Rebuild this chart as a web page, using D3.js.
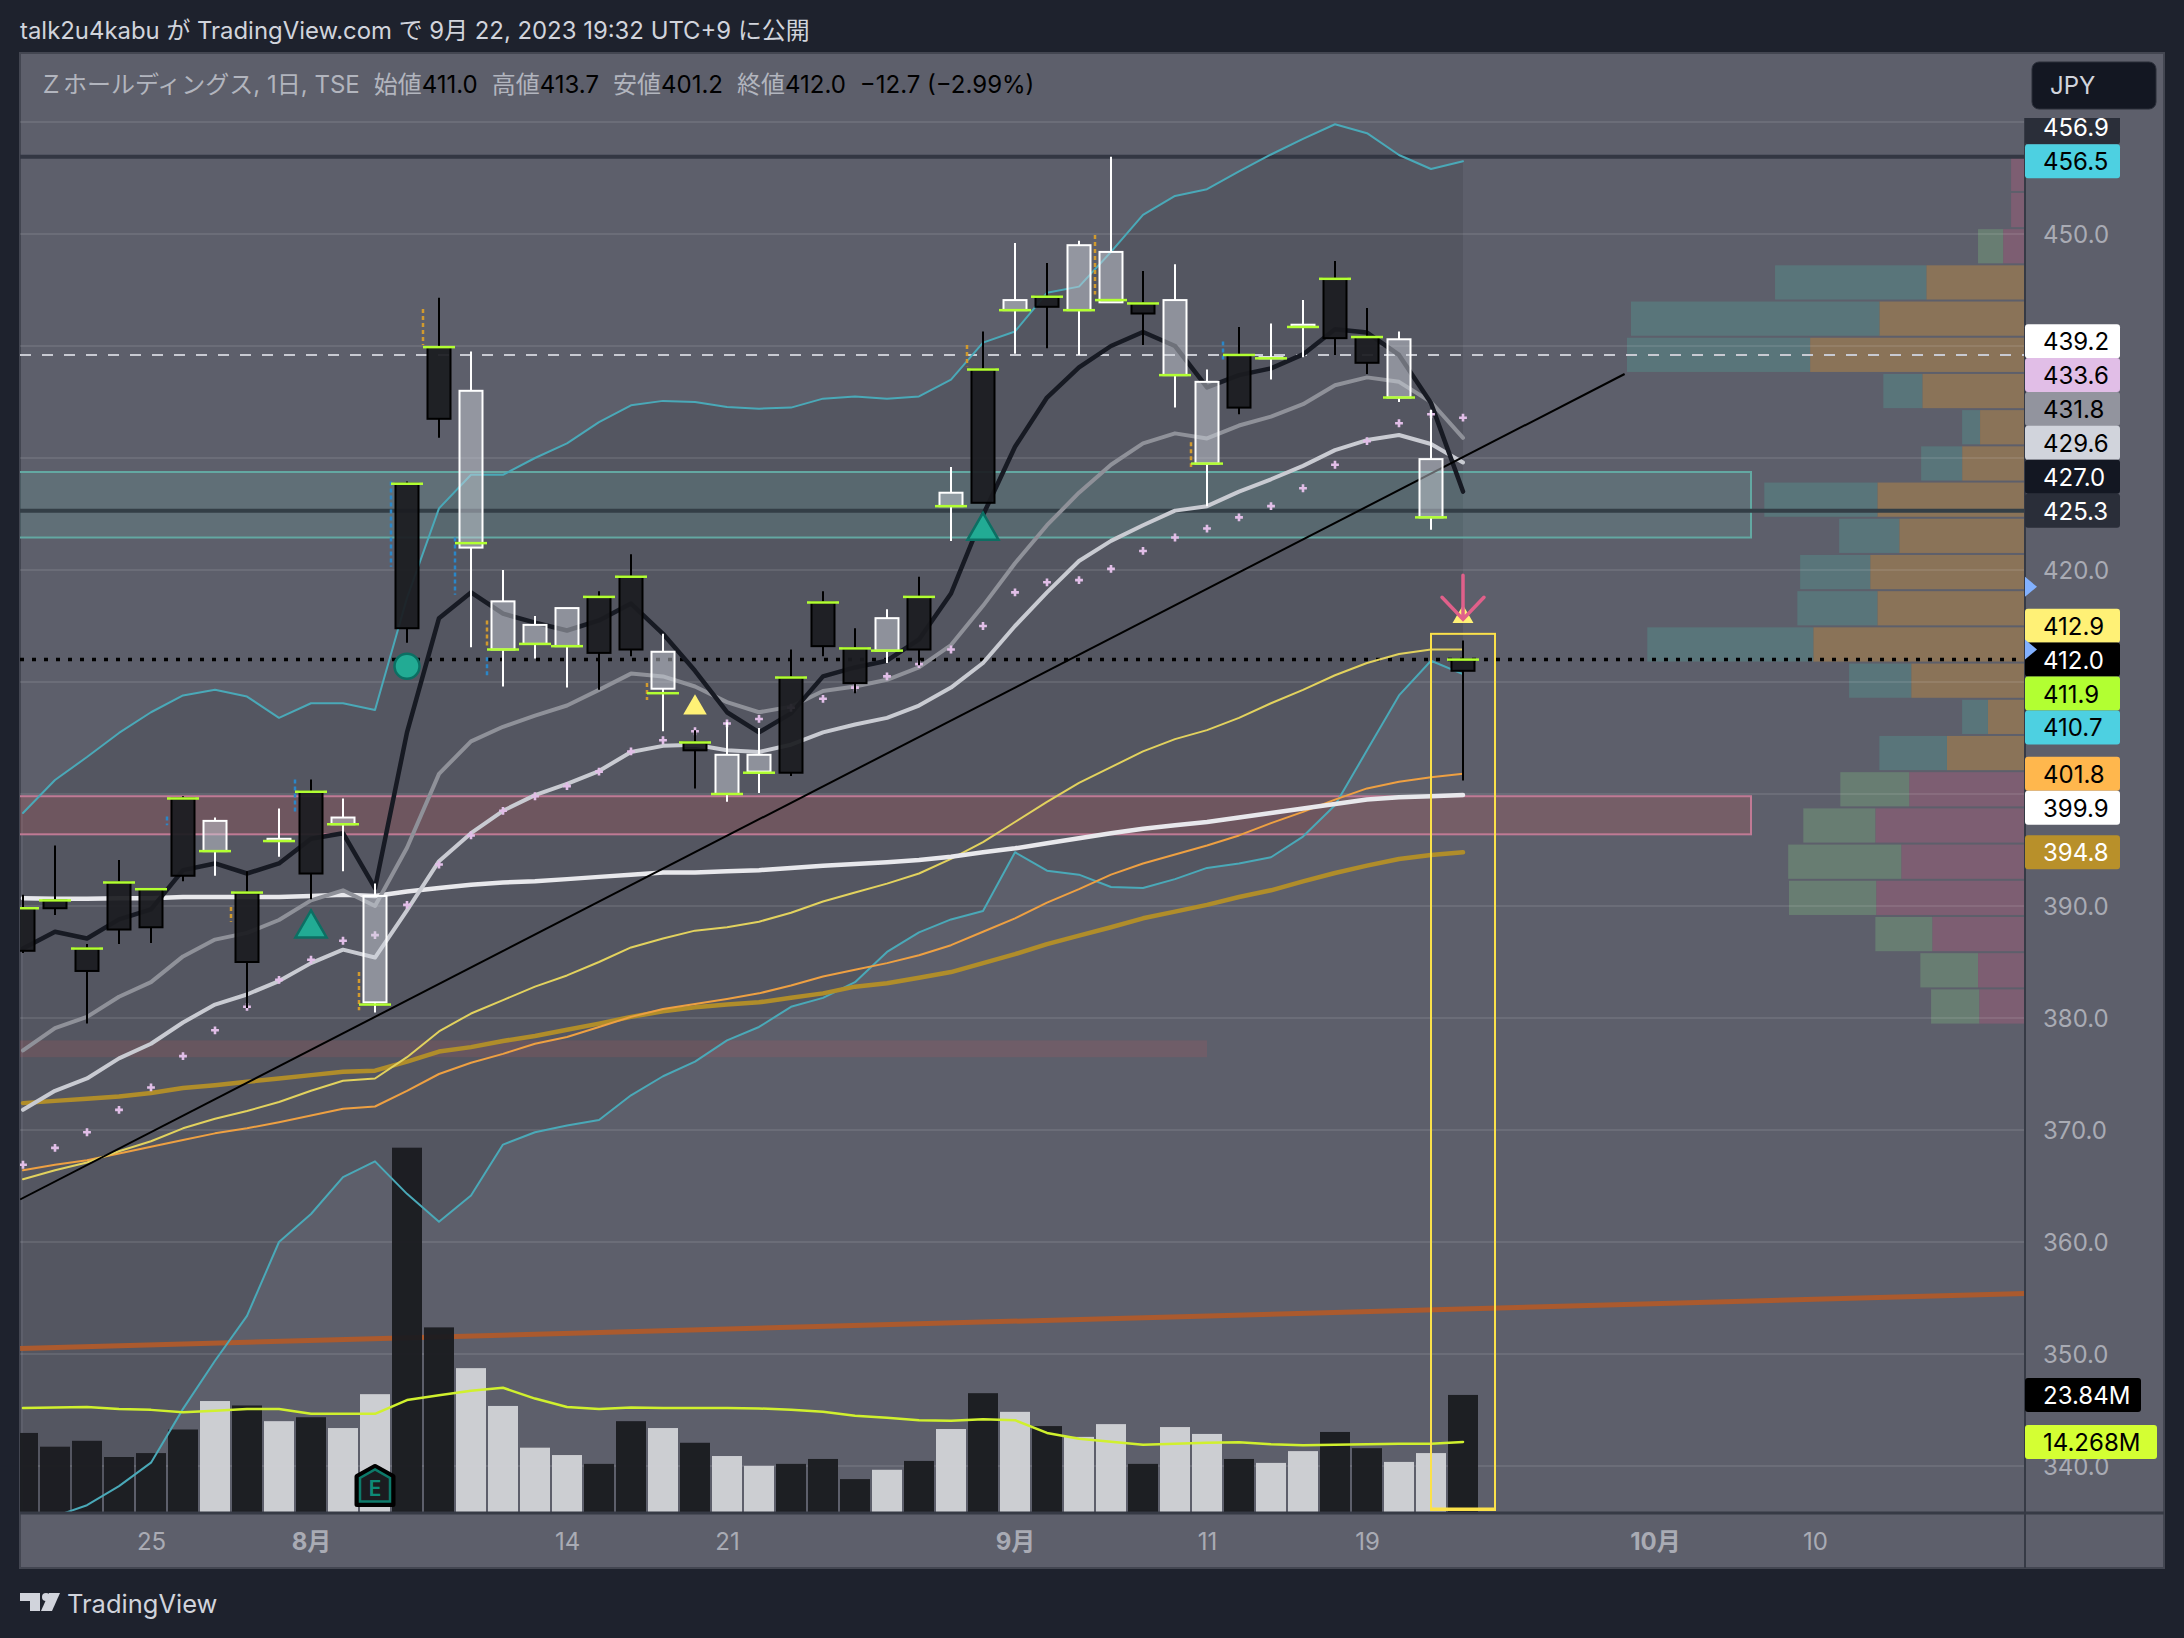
<!DOCTYPE html>
<html>
<head>
<meta charset="utf-8">
<script src="https://cdn.jsdelivr.net/npm/d3@7"></script>
<style>
  html, body { margin: 0; padding: 0; background: #1e222d; }
  svg { display: block; }
  text { font-family: Inter, "Noto Sans CJK JP", sans-serif; }
</style>
</head>
<body>
<script>
// candles. dark = close above open, light = close below open
const opens  = [386.0,389.8,384.2,387.9,388.1,392.7,397.6,385.0,396.0,392.9,397.9,390.9,414.8,433.5,436.0,417.2,415.1,416.6,412.6,412.9,412.7,403.9,403.5,403.5,401.9,413.2,409.9,415.7,412.9,426.9,426.0,444.1,443.5,449.0,448.4,442.9,444.1,436.8,434.5,439.0,441.9,440.7,438.5,440.6,429.9,411.0];
const closes = [389.8,390.5,386.2,392.1,391.5,399.6,394.9,391.2,395.8,400.2,397.3,381.4,427.7,439.9,422.0,412.9,413.4,413.2,417.6,419.4,409.4,404.6,400.0,402.0,410.4,417.1,413.0,412.8,417.6,425.7,437.9,443.2,444.4,443.2,443.9,443.8,437.4,429.5,439.2,438.9,441.7,446.0,440.8,435.4,424.7,412.0];
const highs  = [391.0,395.4,386.6,394.1,391.5,399.8,397.9,393.1,398.7,401.3,399.6,392.0,427.9,444.3,439.5,420.0,415.9,416.6,418.1,421.4,414.3,405.7,406.4,405.9,412.9,418.1,414.8,416.5,419.4,429.2,441.3,449.2,447.4,449.4,456.9,446.7,447.3,437.9,441.7,442.0,444.1,447.6,443.4,441.3,434.3,413.7];
const lows   = [385.8,389.2,379.5,386.6,386.7,392.2,392.7,380.9,394.4,390.6,393.1,380.5,413.5,431.8,413.1,409.6,412.1,409.5,409.3,412.3,405.6,400.5,399.3,400.1,401.6,412.3,409.0,411.7,411.5,422.6,426.0,439.3,439.8,439.2,443.9,440.1,434.5,425.7,433.9,437.0,439.0,439.2,437.5,435.0,423.6,401.2];
const limes  = [389.8,390.5,386.2,392.1,391.5,399.6,394.9,391.2,395.8,400.2,397.3,381.2,427.7,439.9,422.4,412.9,413.4,413.2,417.6,419.4,409.0,404.6,400.0,401.9,410.4,417.1,413.0,412.8,417.6,425.7,437.9,443.2,444.4,443.2,444.1,443.8,437.4,429.5,439.2,438.9,441.7,446.0,440.8,435.4,424.7,412.0];

// moving averages
const maBlack = [386.2,387.7,387.1,388.8,389.7,393.2,393.8,392.9,393.8,396.0,396.5,391.6,405.5,415.7,418.0,416.1,415.3,414.6,415.5,417.0,414.3,411.0,407.3,405.5,407.2,410.5,411.3,411.9,413.8,417.9,424.9,431.0,435.4,438.1,440.0,441.25,440.0,436.3,437.4,438.0,439.25,441.5,441.2,439.2,434.9,427.0];
const maGray  = [377.1,379.1,380.1,381.9,383.2,385.5,387.0,387.6,388.75,390.5,391.4,390.0,395.2,401.8,404.7,406.0,407.0,407.9,409.3,410.75,410.5,409.6,408.2,407.3,407.8,409.2,409.6,410.2,411.3,413.3,416.8,420.6,424.0,426.9,429.4,431.3,432.2,431.75,432.9,433.7,434.8,436.5,437.2,436.8,435.0,431.8];
const maLight = [371.8,373.5,374.6,376.4,377.7,379.6,381.2,382.1,383.3,384.9,386.1,385.4,389.6,394.0,396.5,398.5,399.9,400.9,402.05,403.75,404.3,404.4,403.9,403.75,404.4,405.5,406.2,406.8,407.9,409.5,411.7,415.0,418.0,420.8,422.6,424.0,425.3,425.7,427.0,428.1,429.3,430.7,431.6,432.05,431.25,429.6];
const maWhite = [390.7,390.65,390.65,390.7,390.7,390.8,390.8,390.8,390.8,390.9,391.0,390.9,391.3,391.6,391.9,392.1,392.2,392.4,392.6,392.8,393.0,393.0,393.1,393.2,393.4,393.6,393.75,393.9,394.1,394.4,394.8,395.15,395.6,396.05,396.5,396.9,397.2,397.5,397.9,398.3,398.7,399.1,399.5,399.7,399.8,399.9];
const maGold  = [372.4,372.6,372.8,373.0,373.3,373.75,374.0,374.3,374.6,374.9,375.2,375.3,376.1,377.0,377.4,377.95,378.4,378.95,379.5,380.1,380.6,380.95,381.2,381.4,381.8,382.2,382.8,383.1,383.6,384.1,384.9,385.7,386.6,387.35,388.1,388.9,389.5,390.1,390.8,391.4,392.2,392.95,393.6,394.2,394.55,394.8];
const maOrange = [366.4,366.9,367.3,367.9,368.5,369.1,369.7,370.15,370.7,371.3,371.9,372.1,373.5,375.0,376.0,376.8,377.7,378.3,379.2,380.1,380.8,381.25,381.7,382.2,382.9,383.7,384.3,384.9,385.6,386.5,387.7,388.9,390.3,391.5,392.8,393.8,394.6,395.4,396.3,397.4,398.4,399.5,400.5,401.1,401.5,401.8];
const maYellow = [365.6,366.4,367.1,368.1,369.0,370.15,371.0,371.7,372.5,373.5,374.4,374.6,376.5,378.8,380.4,381.6,382.8,383.8,385.0,386.3,387.1,387.8,388.1,388.6,389.4,390.4,391.2,392.0,392.9,394.2,395.7,397.5,399.3,401.0,402.4,403.8,404.9,405.7,406.8,408.1,409.3,410.6,411.7,412.5,412.9,412.9];
const plusDots = [366.9,368.4,369.8,371.8,373.8,376.6,378.9,381.0,383.4,385.2,386.9,387.4,390.1,393.7,396.3,398.5,399.8,400.7,402.0,403.8,404.8,405.6,406.3,406.7,407.7,408.5,409.5,410.5,411.6,412.9,415.0,418.0,418.9,419.1,420.1,421.7,422.9,423.7,424.7,425.7,427.3,429.4,431.5,433.1,433.9,433.6];

// bollinger bands
const bbUpper = [398.3,401.25,403.3,405.45,407.3,408.8,409.3,408.7,406.8,408.1,408.1,407.5,417.5,425.5,428.5,428.5,430.0,431.3,433.2,434.7,435.1,435.0,434.55,434.4,434.5,435.3,435.5,435.3,435.5,437.0,440.3,441.3,444.75,445.3,448.4,451.7,453.4,454.0,455.6,457.1,458.5,459.8,459.0,457.05,455.8,456.5];
const bbLower = [335.0,335.5,336.5,338.2,340.3,345.1,349.4,353.4,360.0,362.5,365.8,367.2,364.3,361.8,364.15,368.7,369.8,370.4,370.9,373.1,374.8,376.1,378.0,379.2,381.0,381.8,383.2,385.9,387.65,388.8,389.55,394.8,393.15,392.8,391.7,391.6,392.4,393.4,393.8,394.35,396.2,399.0,403.9,408.8,411.9,410.7];

// volume in millions and its average
const volumes = [16.1,13.3,14.5,11.2,12.0,16.8,22.6,21.7,18.5,19.3,17.1,24.0,74.2,37.6,29.3,21.6,13.1,11.6,9.8,18.5,17.1,14.1,11.4,9.4,9.8,10.8,6.7,8.6,10.4,16.9,24.2,20.4,17.5,15.3,17.9,9.8,17.3,15.9,10.8,10.0,12.4,16.3,13.0,10.2,12.0,23.84];
const volumeMa = [21.2,21.3,21.4,21.0,20.8,20.3,20.6,21.0,21.0,20.0,20.0,20.0,22.8,23.8,24.7,25.3,23.1,21.4,21.0,21.3,21.2,21.2,21.2,21.1,20.8,20.4,19.6,19.2,18.7,18.6,18.9,18.7,16.1,14.9,14.3,13.7,13.9,14.1,14.2,13.8,13.6,13.7,13.8,13.9,13.9,14.268];

// volume profile rows, top row first
const vpRight = [3.5,3.5,5.5,24.8,36.6,54.0,25.8,11.3,15.8,37.1,31.6,38.9,37.1,53.2,28.6,9.3,19.6,29.1,37.6,31.1,37.4,23.3,11.8,11.5];
const vpLeft  = [0,0,6.3,38.0,62.4,46.0,9.8,4.5,10.3,28.4,15.1,17.6,20.1,41.7,15.6,6.5,17.0,17.3,18.1,28.4,21.9,14.3,14.5,12.1];

// axes
const priceGrid = [460,450,440,430,420,410,400,390,380,370,360,350,340];
const priceTicks = [450,420,390,380,370,360,350,340];
const timeTicks = [4,9,17,22,31,37,42,51,56];
const timeLabels = ["25","8月","14","21","9月","11","19","10月","10"];
const boldTimeTicks = ["8月","9月","10月"];

// drawn objects
const trendIdx = [-0.09, 50.05], trendPrice = [363.8, 437.5];
const brownIdx = [-0.09, 62.6], brownPrice = [350.5, 355.4];
const zoneNames = ["teal","pink","faint"];
const zoneRight = [54,54,37];
const zoneTop = [428.75,399.8,378.0];
const zoneBottom = [422.9,396.4,376.5];
const tealTriangles = [9,30], tealTrianglePrice = [388.0,423.5];
const yellowTriangleIdx = 21, yellowTrianglePrice = 407.7;
const flowIdx = [5,9,7,11,12,13,14,15,15,20,30,34,37,38];
const flowTop = [398.0,401.3,389.9,384.1,427.9,443.3,422.9,415.5,412.2,409.9,440.1,449.9,431.4,440.4];
const flowBottom = [397.2,398.4,388.6,380.7,420.3,440.1,417.8,413.0,410.4,408.4,438.2,444.6,429.2,438.6];
const flowColor = ["#2a86c8","#2a86c8","#d19a2e","#d19a2e","#2a86c8","#d19a2e","#2a86c8","#d19a2e","#2a86c8","#d19a2e","#d19a2e","#d19a2e","#d19a2e","#2a86c8"];
const scalePointers = [418.5, 412.9];

// price labels on the right. They stack up or down from an anchor value
const labelText  = ["456.9","456.5","439.2","433.6","431.8","429.6","427.0","425.3","412.9","412.0","411.9","410.7","401.8","399.9","394.8"];
const labelAnchor = [456.5,456.5,425.3,425.3,425.3,425.3,425.3,425.3,412.0,412.0,412.0,412.0,401.8,401.8,394.8];
const labelSlot  = [-1,0,-5,-4,-3,-2,-1,0,-1,0,1,2,0,1,0];
const labelBg    = ["#2a2e39","#4dd0e1","#ffffff","#e1bee7","#92949e","#d1d4dc","#131722","#2a2e39","#fff176","#000000","#b2ff32","#4dd0e1","#ffb74d","#ffffff","#b8902a"];
const labelFg    = ["#fff","#000","#000","#000","#000","#000","#fff","#fff","#000","#fff","#000","#000","#000","#000","#fff"];

const width = 2184, height = 1638;
const panelLeft = 20, panelRight = 2164, panelTop = 53, panelBottom = 1568, axisX = 2025, plotBottom = 1512;

const svg = d3.select("body").append("svg").attr("width", width).attr("height", height);
svg.append("rect").attr("width", width).attr("height", height).attr("fill", "#1e222d");
svg.append("rect").attr("x", panelLeft).attr("y", panelTop).attr("width", panelRight - panelLeft).attr("height", panelBottom - panelTop)
    .attr("fill", "#5d5f6b").attr("stroke", "#434651").attr("stroke-width", 2);

const x = d3.scaleLinear().domain([0, 45]).range([23, 1463]);
const y = d3.scaleLinear().domain([450, 340]).range([234, 1466]);
const vol = d3.scaleLinear().domain([0, 100]).range([plotBottom, 1021]);
const vpRows = d3.scaleBand().domain(d3.range(vpRight.length)).range([y(456.9), y(379.5)]).paddingInner(0.055);
const vpWidth = d3.scaleLinear().domain([0, 100]).range([0, 398]);

svg.append("clipPath").attr("id", "plot").append("rect")
    .attr("x", panelLeft).attr("y", panelTop).attr("width", axisX - panelLeft).attr("height", plotBottom - panelTop);
const plot = svg.append("g").attr("clip-path", "url(#plot)");

// band fill
plot.append("path").datum(d3.range(bbUpper.length))
    .attr("fill", "#545661")
    .attr("d", d3.area().x(i => x(i)).y0(i => y(bbUpper[i])).y1(i => y(bbLower[i])));

// volume profile
const vp = plot.append("g");
vp.selectAll(".r").data(vpRight).enter().append("rect")
    .attr("x", d => axisX - vpWidth(d)).attr("width", d => vpWidth(d))
    .attr("y", (d, i) => vpRows(i)).attr("height", vpRows.bandwidth())
    .attr("fill", (d, i) => (i >= 3 && i <= 16) ? "#8a7358" : "#7d5e72");
vp.selectAll(".l").data(vpLeft).enter().append("rect")
    .attr("x", (d, i) => axisX - vpWidth(vpRight[i]) - vpWidth(d)).attr("width", d => vpWidth(d))
    .attr("y", (d, i) => vpRows(i)).attr("height", vpRows.bandwidth())
    .attr("fill", (d, i) => (i >= 3 && i <= 16) ? "#59757a" : "#687d72");

// grid
plot.selectAll(".grid").data(priceGrid).enter().append("line")
    .attr("x1", panelLeft).attr("x2", axisX).attr("y1", d => y(d)).attr("y2", d => y(d))
    .attr("stroke", "#ffffff").attr("stroke-opacity", 0.09).attr("stroke-width", 2);

// zones
zoneNames.forEach(function(name, k) {
    const fill = { teal: "rgba(110,190,180,0.18)", pink: "rgba(215,90,90,0.2)", faint: "rgba(215,90,90,0.15)" }[name];
    const stroke = { teal: "#63a8a2", pink: "#c07a95", faint: "none" }[name];
    plot.append("rect")
        .attr("x", x(-2)).attr("width", x(zoneRight[k]) - x(-2))
        .attr("y", y(zoneTop[k])).attr("height", y(zoneBottom[k]) - y(zoneTop[k]))
        .attr("fill", fill).attr("stroke", stroke).attr("stroke-width", 2);
});

// price lines
function hline(price, color, w, dash) {
    plot.append("line").attr("x1", panelLeft).attr("x2", axisX).attr("y1", y(price)).attr("y2", y(price))
        .attr("stroke", color).attr("stroke-width", w).attr("stroke-dasharray", dash || null);
}
hline(456.9, "#333743", 4);
hline(425.3, "#333e46", 4);
hline(439.2, "#c8cad2", 2, "11 11");
hline(412.0, "#000000", 3.5, "4 8");

const lineOf = values => d3.line().x((d, i) => x(i)).y((d, i) => y(values[i]))(values);
function drawLine(values, color, w) {
    plot.append("path").attr("d", lineOf(values)).attr("fill", "none")
        .attr("stroke", color).attr("stroke-width", w).attr("stroke-linejoin", "round").attr("stroke-linecap", "round");
}

// long straight lines
const straight = d3.line().x(d => x(d[0])).y(d => y(d[1]));
plot.append("path").attr("d", straight(d3.zip(brownIdx, brownPrice)))
    .attr("fill", "none").attr("stroke", "#ab5a2e").attr("stroke-width", 5);

// volume
plot.selectAll(".vol").data(volumes).enter().append("rect")
    .attr("x", (d, i) => x(i) - 15).attr("width", 30)
    .attr("y", d => vol(d)).attr("height", d => plotBottom - vol(d))
    .attr("fill", (d, i) => closes[i] >= opens[i] ? "#1b1c20" : "#d1d2d6").attr("fill-opacity", 0.96);

drawLine(bbUpper, "#4aa9b8", 2);
drawLine(bbLower, "#4aa9b8", 2);
drawLine(maGold, "#b08d2a", 4.5);
drawLine(maOrange, "#eea042", 2);
drawLine(maYellow, "#e2d25e", 2);
drawLine(maWhite, "#e8e8ec", 4.5);
drawLine(maLight, "#c9cbd2", 4);
drawLine(maGray, "#8f9199", 4);
drawLine(maBlack, "#171a23", 4.5);
drawLine(volumeMa.map(v => y.invert(vol(v))), "#d0f02e", 2.5);

plot.append("path").attr("d", straight(d3.zip(trendIdx, trendPrice)))
    .attr("fill", "none").attr("stroke", "#000000").attr("stroke-width", 2);

// small order-flow ticks beside some candles
flowIdx.forEach(function(i, k) {
    plot.append("line").attr("x1", x(i) - 16).attr("x2", x(i) - 16)
        .attr("y1", y(flowTop[k])).attr("y2", y(flowBottom[k]))
        .attr("stroke", flowColor[k]).attr("stroke-width", 2.5).attr("stroke-dasharray", "4 3");
});

// plus dots sit behind the candle bodies
plot.selectAll(".plus").data(plusDots).enter().append("path")
    .attr("d", d3.symbol(d3.symbolCross).size(34))
    .attr("transform", (d, i) => `translate(${x(i)},${y(d)})`)
    .attr("fill", "#e1bee7");

// candles
const candle = plot.selectAll(".candle").data(opens).enter().append("g");
const isDark = i => closes[i] >= opens[i];
candle.append("line")
    .attr("x1", (d, i) => x(i)).attr("x2", (d, i) => x(i))
    .attr("y1", (d, i) => y(highs[i])).attr("y2", (d, i) => y(Math.max(opens[i], closes[i])))
    .attr("stroke", (d, i) => isDark(i) ? "#000" : "#fff").attr("stroke-width", 2);
candle.append("line")
    .attr("x1", (d, i) => x(i)).attr("x2", (d, i) => x(i))
    .attr("y1", (d, i) => y(Math.min(opens[i], closes[i]))).attr("y2", (d, i) => y(lows[i]))
    .attr("stroke", (d, i) => isDark(i) ? "#000" : "#fff").attr("stroke-width", 2);
candle.append("rect")
    .attr("x", (d, i) => x(i) - 11.5).attr("width", 23)
    .attr("y", (d, i) => y(Math.max(opens[i], closes[i])))
    .attr("height", (d, i) => Math.abs(y(opens[i]) - y(closes[i])))
    .attr("fill", (d, i) => isDark(i) ? "rgba(27,28,32,0.93)" : "rgba(209,212,220,0.47)")
    .attr("stroke", (d, i) => isDark(i) ? "#000" : "#fff").attr("stroke-width", 2);
candle.append("line")
    .attr("x1", (d, i) => x(i) - 16).attr("x2", (d, i) => x(i) + 16)
    .attr("y1", (d, i) => y(limes[i])).attr("y2", (d, i) => y(limes[i]))
    .attr("stroke", "#b2ff32").attr("stroke-width", 2.5);

// signals
const triangle = d3.symbol(d3.symbolTriangle);
tealTriangles.forEach(function(i, k) {
    plot.append("path").attr("d", triangle.size(420)())
        .attr("transform", `translate(${x(i)},${y(tealTrianglePrice[k])})`)
        .attr("fill", "#22ab94").attr("stroke", "#0c6f63").attr("stroke-width", 2.5);
});
plot.append("path").attr("d", triangle.size(240)())
    .attr("transform", `translate(${x(yellowTriangleIdx)},${y(yellowTrianglePrice)})`)
    .attr("fill", "#fff176");
plot.append("circle").attr("cx", x(12)).attr("cy", y(411.4)).attr("r", 12.5)
    .attr("fill", "#22ab94").attr("stroke", "#0c6f63").attr("stroke-width", 2.5);

// box around the last bar
plot.append("rect").attr("x", x(44)).attr("width", x(46) - x(44))
    .attr("y", y(414.3)).attr("height", 1510 - y(414.3))
    .attr("fill", "none").attr("stroke", "#fbe14a").attr("stroke-width", 2);
plot.append("line").attr("x1", x(44)).attr("x2", x(46)).attr("y1", 1509).attr("y2", 1509)
    .attr("stroke", "#fbe14a").attr("stroke-width", 3);

// arrow over the last bar
plot.append("path").attr("d", triangle.size(190)())
    .attr("transform", `translate(${x(45)},${y(415.8)})`).attr("fill", "#fff176");
const ax = x(45), ay = y(415.6);
plot.append("path")
    .attr("d", `M${ax},${ay - 44}L${ax},${ay}M${ax - 21},${ay - 22}L${ax},${ay}L${ax + 21},${ay - 22}`)
    .attr("fill", "none").attr("stroke", "#e0608a").attr("stroke-width", 3.5).attr("stroke-linecap", "round");

// earnings badge
const badge = plot.append("g").attr("transform", `translate(${x(11)},${vol(5)})`);
badge.append("path").attr("d", "M0,-21L18,-11L18,17L-18,17L-18,-11Z")
    .attr("fill", "#1b1c20").attr("stroke", "#000").attr("stroke-width", 5).attr("stroke-linejoin", "round");
badge.append("path").attr("d", "M0,-18L15,-9.5L15,14L-15,14L-15,-9.5Z")
    .attr("fill", "none").attr("stroke", "#0d7a6a").attr("stroke-width", 2.5);
badge.append("text").attr("text-anchor", "middle").attr("y", 9).attr("font-size", 21).attr("font-weight", 600)
    .attr("fill", "#0d8a77").text("E");

// axis frames
svg.append("line").attr("x1", panelLeft).attr("x2", panelRight).attr("y1", plotBottom + 1).attr("y2", plotBottom + 1)
    .attr("stroke", "#363a45").attr("stroke-width", 3);
svg.append("line").attr("x1", axisX).attr("x2", axisX).attr("y1", 118).attr("y2", panelBottom)
    .attr("stroke", "#363a45").attr("stroke-width", 2);

// price axis
const priceAxis = svg.append("g").attr("transform", `translate(${axisX},0.8)`)
    .call(d3.axisRight(y).tickValues(priceTicks).tickFormat(d3.format(".1f")).tickSize(0).tickPadding(18));
priceAxis.select(".domain").remove();
priceAxis.selectAll("text").attr("font-size", 24).attr("fill", "#a9abb4")
    .style("font-family", "Inter, sans-serif");

// time axis
const timeAxis = svg.append("g").attr("transform", `translate(0,${plotBottom})`)
    .call(d3.axisBottom(x).tickValues(timeTicks).tickFormat((d, i) => timeLabels[i]).tickSize(0).tickPadding(21));
timeAxis.select(".domain").remove();
timeAxis.selectAll("text").attr("font-size", 24)
    .attr("font-weight", (d, i) => boldTimeTicks.includes(timeLabels[i]) ? 700 : 400)
    .attr("fill", "#a9abb4")
    .style("font-family", 'Inter, "Noto Sans CJK JP", sans-serif');

// price labels
const lab = svg.append("g");
labelText.forEach(function(t, k) {
    const cy = y(labelAnchor[k]) + labelSlot[k] * 33.9;
    const g = lab.append("g");
    g.append("rect").attr("x", axisX).attr("y", cy - 17).attr("width", 95).attr("height", 34)
        .attr("rx", 3).attr("fill", labelBg[k]);
    g.append("text").attr("x", axisX + 18).attr("y", cy + 9).attr("font-size", 24)
        .attr("fill", labelFg[k]).text(t);
});
// the top label runs under the currency button
svg.append("rect").attr("x", axisX - 1).attr("y", panelTop + 1).attr("width", panelRight - axisX).attr("height", 64).attr("fill", "#5d5f6b");

// volume labels
const volLab = svg.append("g");
volLab.append("rect").attr("x", axisX).attr("y", vol(23.84) - 17).attr("width", 116).attr("height", 34).attr("rx", 3).attr("fill", "#000");
volLab.append("text").attr("x", axisX + 18).attr("y", vol(23.84) + 9).attr("font-size", 24).attr("fill", "#fff").text("23.84M");
volLab.append("rect").attr("x", axisX).attr("y", vol(14.268) - 17).attr("width", 132).attr("height", 34).attr("rx", 3).attr("fill", "#d4ff33");
volLab.append("text").attr("x", axisX + 18).attr("y", vol(14.268) + 9).attr("font-size", 24).attr("fill", "#000").text("14.268M");

// little pointers on the scale
scalePointers.forEach(function(p) {
    const py = y(p);
    svg.append("path").attr("d", `M${axisX},${py - 10}L${axisX + 12},${py}L${axisX},${py + 10}Z`).attr("fill", "#82b1ff");
});

// currency button
svg.append("rect").attr("x", 2032).attr("y", 62).attr("width", 124).attr("height", 47).attr("rx", 7)
    .attr("fill", "#131722").attr("stroke", "#2a2e39");
svg.append("text").attr("x", 2050).attr("y", 94).attr("font-size", 24).attr("fill", "#d1d4dc").text("JPY");

// header
svg.append("text").attr("x", 20).attr("y", 39).attr("font-size", 23.9).attr("fill", "#d1d4dc")
    .text("talk2u4kabu が TradingView.com で 9月 22, 2023 19:32 UTC+9 に公開");

// legend
const legend = svg.append("text").attr("x", 39).attr("y", 93).attr("font-size", 24).attr("fill", "#b2b5be");
[["Ｚホールディングス, 1日, TSE", "#b2b5be", 0],
 ["始値", "#b2b5be", 14], ["411.0", "#000", 0],
 ["高値", "#b2b5be", 14], ["413.7", "#000", 0],
 ["安値", "#b2b5be", 14], ["401.2", "#000", 0],
 ["終値", "#b2b5be", 14], ["412.0", "#000", 0],
 ["−12.7 (−2.99%)", "#000", 14]].forEach(function(p) {
    legend.append("tspan").attr("dx", p[2]).attr("fill", p[1]).text(p[0]);
});

// TradingView mark
const logo = svg.append("g").attr("fill", "#d1d4dc");
logo.append("path").attr("d", "M20,1593H40V1611H30V1601H20Z");
logo.append("circle").attr("cx", 46).attr("cy", 1597).attr("r", 4);
logo.append("path").attr("d", "M49,1593H60L52,1611H41Z");
svg.append("text").attr("x", 67).attr("y", 1613).attr("font-size", 25.5).attr("fill", "#d1d4dc").text("TradingView");
</script>
</body>
</html>
